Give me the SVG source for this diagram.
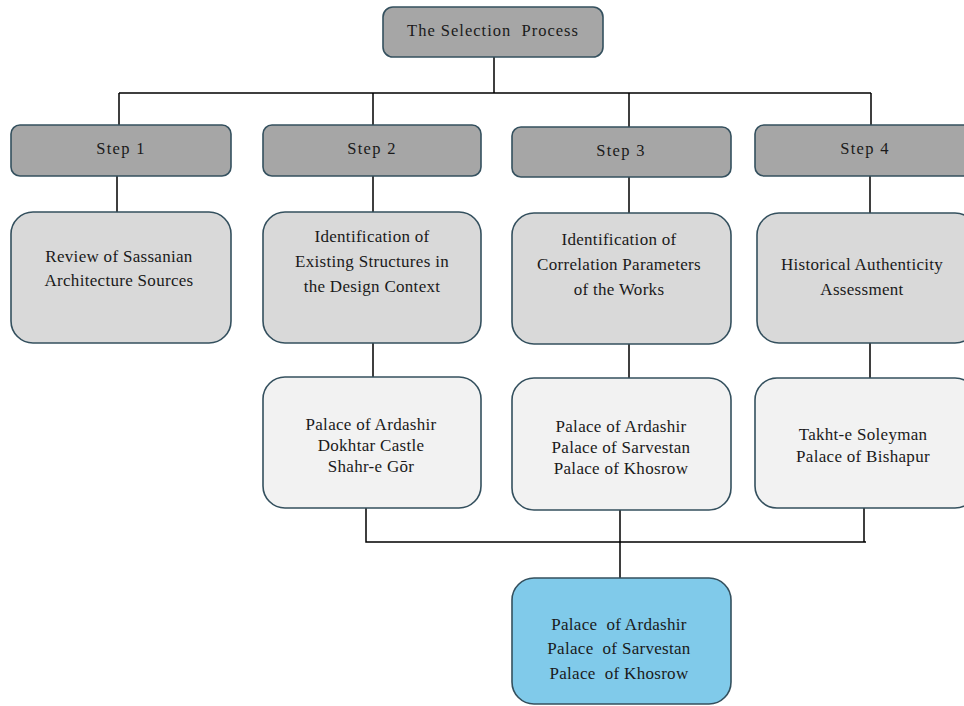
<svg xmlns="http://www.w3.org/2000/svg" width="964" height="706" viewBox="0 0 964 706">
<style>
.box{stroke:#34505e;stroke-width:1.6}
.hdr{fill:#a6a6a6}
.det{fill:#d9d9d9}
.lst{fill:#f2f2f2}
.fin{fill:#80caea}
text{font-family:"Liberation Serif","DejaVu Serif",serif;font-size:17px;letter-spacing:0.3px;fill:#1a1a1a;text-anchor:middle;white-space:pre}
.h{font-size:16.5px;letter-spacing:1.3px}
.t{font-size:16.5px;letter-spacing:1px}
.c{fill:none;stroke:#000;stroke-width:1.5}
</style>
<rect width="964" height="706" fill="#fff"/>
<g id="connectors">
<path class="c" d="M494 57V93M119 93H871M119 93V125M373 93V125M629 93V127M871 93V125"/>
<path class="c" d="M117 176V212M373 176V212M629 177V213M870 176V213"/>
<path class="c" d="M373 343V377M629 344V378M870 343V378"/>
<path class="c" d="M366 508V542H866M620 510V578M864 508V542"/>
</g>
<g id="title"><rect class="box hdr" x="383" y="7" width="220" height="50" rx="10"/><text class="t" x="493" y="36">The Selection  Process</text></g>
<g id="step1"><rect class="box hdr" x="11" y="125" width="220" height="51" rx="9"/><text class="h" x="121" y="154">Step 1</text></g>
<g id="step2"><rect class="box hdr" x="263" y="125" width="218" height="51" rx="9"/><text class="h" x="372" y="154">Step 2</text></g>
<g id="step3"><rect class="box hdr" x="512" y="127" width="219" height="50" rx="9"/><text class="h" x="621" y="156">Step 3</text></g>
<g id="step4"><rect class="box hdr" x="755" y="125" width="222" height="51" rx="9"/><text class="h" x="865" y="154">Step 4</text></g>
<g id="review"><rect class="box det" x="11" y="212" width="220" height="131" rx="22"/><text x="119" y="262">Review of Sassanian</text><text x="119" y="286">Architecture Sources</text></g>
<g id="identExisting"><rect class="box det" x="263" y="212" width="218" height="131" rx="22"/><text x="372" y="242">Identification of</text><text x="372" y="267">Existing Structures in</text><text x="372" y="292">the Design Context</text></g>
<g id="identCorr"><rect class="box det" x="512" y="213" width="219" height="131" rx="22"/><text x="619" y="245">Identification of</text><text x="619" y="270">Correlation Parameters</text><text x="619" y="295">of the Works</text></g>
<g id="historical"><rect class="box det" x="757" y="213" width="220" height="130" rx="22"/><text x="862" y="270">Historical Authenticity</text><text x="862" y="295">Assessment</text></g>
<g id="list2"><rect class="box lst" x="263" y="377" width="218" height="131" rx="22"/><text x="371" y="430">Palace of Ardashir</text><text x="371" y="451">Dokhtar Castle</text><text x="371" y="472">Shahr-e Gōr</text></g>
<g id="list3"><rect class="box lst" x="512" y="378" width="219" height="132" rx="22"/><text x="621" y="432">Palace of Ardashir</text><text x="621" y="453">Palace of Sarvestan</text><text x="621" y="474">Palace of Khosrow</text></g>
<g id="list4"><rect class="box lst" x="755" y="378" width="222" height="130" rx="22"/><text x="863" y="440">Takht-e Soleyman</text><text x="863" y="462">Palace of Bishapur</text></g>
<g id="final"><rect class="box fin" x="512" y="578" width="219" height="126" rx="22"/><text x="619" y="630">Palace  of Ardashir</text><text x="619" y="654">Palace  of Sarvestan</text><text x="619" y="679">Palace  of Khosrow</text></g>
</svg>
